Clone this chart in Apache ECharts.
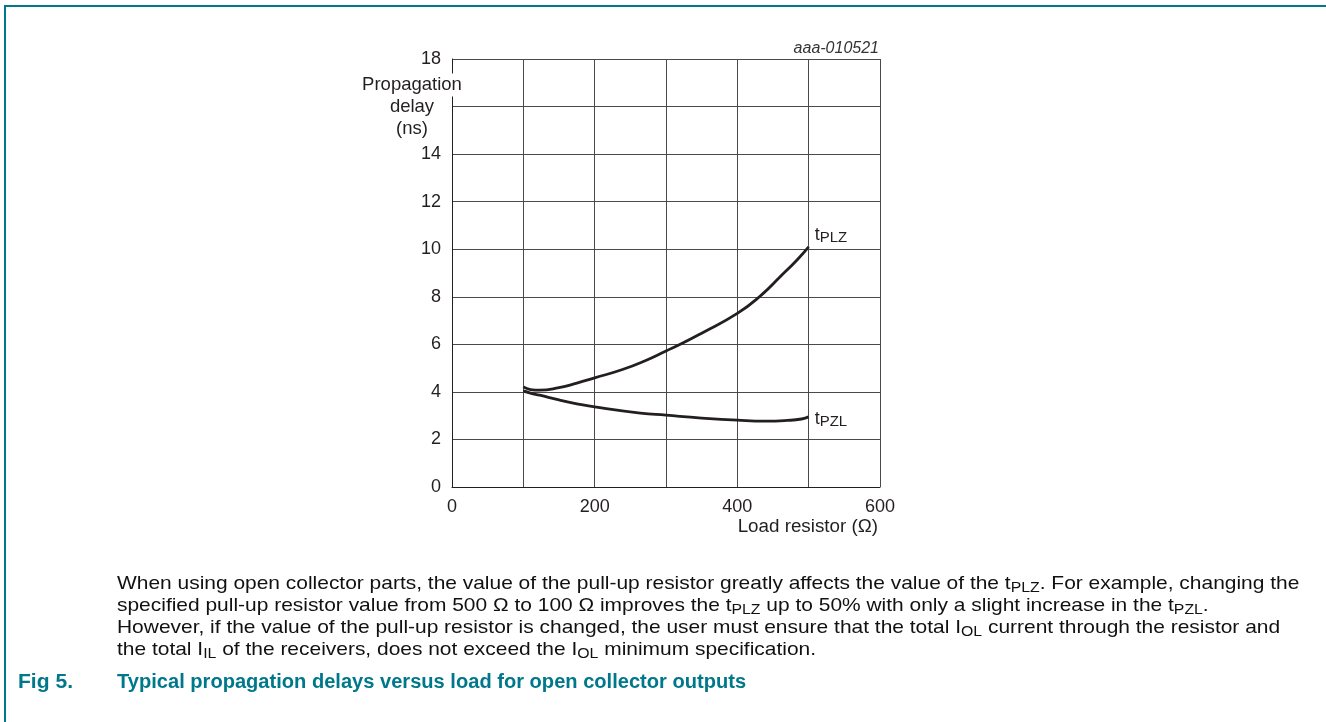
<!DOCTYPE html>
<html>
<head>
<meta charset="utf-8">
<script src="https://cdn.jsdelivr.net/npm/echarts@6/dist/echarts.min.js"></script>
<style>
html,body{margin:0;padding:0;background:#fff;}
#chart{width:1326px;height:722px;}
</style>
</head>
<body>
<div id="chart"></div>
<script>
// ---- data ----
const xTicks = [0, 100, 200, 300, 400, 500, 600];
const xLabelsShown = [0, 200, 400, 600];
const yLabelsShown = [0, 2, 4, 6, 8, 10, 12, 14, 18];
const tPLZ = [[100,4.21],[110,4.1],[123,4.07],[150,4.18],[175,4.37],[200,4.59],[238,4.93],[270,5.3],[300,5.72],[320,6.0],[350,6.47],[400,7.3],[434,8.08],[460,8.84],[484,9.56],[500,10.1]];
const tPZL = [[100,4.04],[110,3.95],[123,3.86],[150,3.66],[175,3.5],[200,3.37],[264,3.11],[300,3.02],[350,2.9],[400,2.81],[440,2.77],[470,2.8],[490,2.86],[500,2.95]];
const paragraphLines = [
  'When using open collector parts, the value of the pull-up resistor greatly affects the value of the t{s|PLZ}. For example, changing the',
  'specified pull-up resistor value from 500 \u03A9 to 100 \u03A9 improves the t{s|PLZ} up to 50% with only a slight increase in the t{s|PZL}.',
  'However, if the value of the pull-up resistor is changed, the user must ensure that the total I{s|OL} current through the resistor and',
  'the total I{s|IL} of the receivers, does not exceed the I{s|OL} minimum specification.'
];
const figNumber = 'Fig 5.';
const figTitle = 'Typical propagation delays versus load for open collector outputs';

const FONT = '"Liberation Sans", Arial, sans-serif';
const INK = '#231f20';
const TEAL = '#00788b';

const chart = echarts.init(document.getElementById('chart'));
const option = {
  animation: false,
  backgroundColor: '#fff',
  grid: {left: 452, right: 1326 - 880, top: 59, bottom: 722 - 487, containLabel: false},
  xAxis: {
    type: 'value', min: 0, max: 600, interval: 100,
    axisLine: {show: true, lineStyle: {color: INK, width: 1}},
    axisTick: {show: false},
    splitLine: {show: true, lineStyle: {color: '#4a4a4a', width: 1}},
    axisLabel: {
      margin: 11, color: INK, fontFamily: FONT, fontSize: 18,
      formatter: v => xLabelsShown.indexOf(v) >= 0 ? String(v) : ''
    }
  },
  yAxis: {
    type: 'value', min: 0, max: 18, interval: 2,
    axisLine: {show: true, lineStyle: {color: INK, width: 1}},
    axisTick: {show: false},
    splitLine: {show: true, lineStyle: {color: '#4a4a4a', width: 1}},
    axisLabel: {
      margin: 11, color: INK, fontFamily: FONT, fontSize: 18,
      formatter: v => yLabelsShown.indexOf(v) >= 0 ? String(v) : ''
    }
  },
  series: [
    {
      name: 'tPLZ', type: 'line', data: tPLZ, smooth: 0.5, showSymbol: false,
      lineStyle: {color: INK, width: 2.8}, z: 5,
      endLabel: {
        show: true, distance: 6, offset: [0, -12],
        formatter: () => 't{s|PLZ}',
        color: INK, fontFamily: FONT, fontSize: 18, lineHeight: 22,
        rich: {s: {fontSize: 15, lineHeight: 14, verticalAlign: 'bottom', color: INK, fontFamily: FONT}}
      }
    },
    {
      name: 'tPZL', type: 'line', data: tPZL, smooth: 0.5, showSymbol: false,
      lineStyle: {color: INK, width: 2.8}, z: 5,
      endLabel: {
        show: true, distance: 6, offset: [0, 2],
        formatter: () => 't{s|PZL}',
        color: INK, fontFamily: FONT, fontSize: 18, lineHeight: 22,
        rich: {s: {fontSize: 15, lineHeight: 14, verticalAlign: 'bottom', color: INK, fontFamily: FONT}}
      }
    }
  ],
  graphic: [
    // frame lines
    {type: 'line', shape: {x1: 4, y1: 6, x2: 1326, y2: 6}, style: {stroke: TEAL, lineWidth: 2}, z: 100},
    {type: 'line', shape: {x1: 5, y1: 5, x2: 5, y2: 722}, style: {stroke: TEAL, lineWidth: 2}, z: 100},
    // y axis name
    {type: 'text', x: 412, y: 85, z: 100, style: {text: 'Propagation', fill: INK, font: '18.5px ' + FONT, align: 'center', verticalAlign: 'middle', backgroundColor: '#fff', padding: [2, 1, 2, 1]}},
    {type: 'text', x: 412, y: 107, z: 100, style: {text: 'delay', fill: INK, font: '18.5px ' + FONT, align: 'center', verticalAlign: 'middle'}},
    {type: 'text', x: 412, y: 129, z: 100, style: {text: '(ns)', fill: INK, font: '18.5px ' + FONT, align: 'center', verticalAlign: 'middle'}},
    // x axis name
    {type: 'text', x: 878, y: 527, z: 100, style: {text: 'Load resistor (\u03A9)', fill: INK, font: '18.8px ' + FONT, align: 'right', verticalAlign: 'middle'}},
    // figure id
    {type: 'text', x: 879, y: 49, z: 100, style: {text: 'aaa-010521', fill: '#333', font: 'italic 16px ' + FONT, align: 'right', verticalAlign: 'middle'}},
    // paragraph
    {type: 'text', x: 117, y: 573.5, scaleX: 1.132, z: 100, style: {
      text: paragraphLines.join('\n'), fill: '#111', fontFamily: FONT, fontSize: 18.5, lineHeight: 21.8,
      align: 'left', verticalAlign: 'top',
      rich: {s: {fontSize: 14, lineHeight: 14, verticalAlign: 'bottom', fill: '#111', fontFamily: FONT}}
    }},
    // caption
    {type: 'text', x: 18, y: 682.5, scaleX: 1.08, z: 100, style: {text: figNumber, fill: TEAL, font: 'bold 19.5px ' + FONT, align: 'left', verticalAlign: 'middle'}},
    {type: 'text', x: 117, y: 682.5, scaleX: 1.03, z: 100, style: {text: figTitle, fill: TEAL, font: 'bold 19.5px ' + FONT, align: 'left', verticalAlign: 'middle'}}
  ]
};
chart.setOption(option);
</script>
</body>
</html>
